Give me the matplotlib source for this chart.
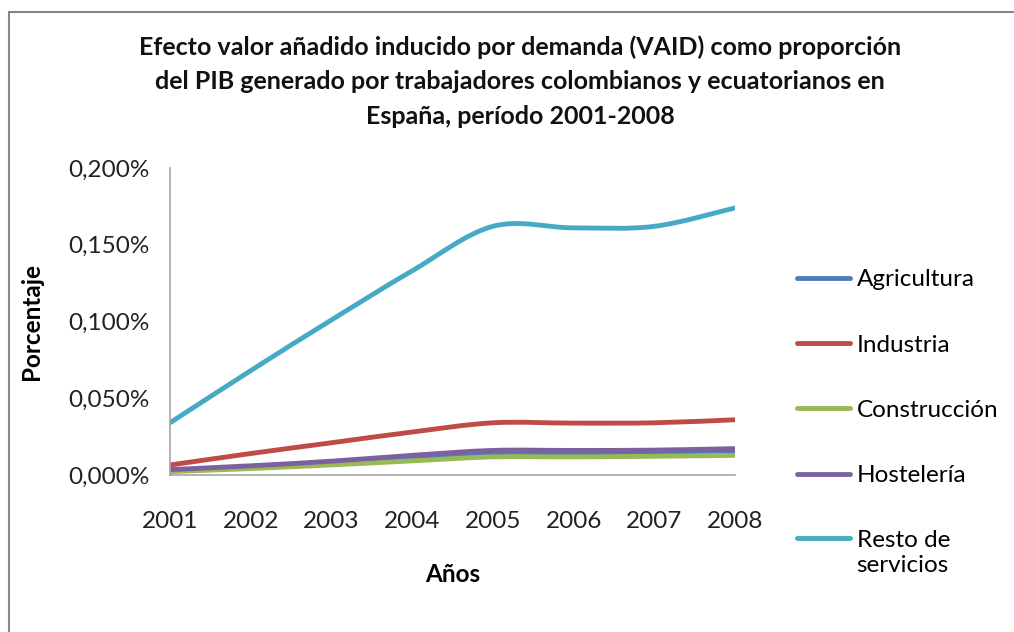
import numpy as np
import matplotlib.pyplot as plt
from matplotlib.path import Path
from matplotlib.patches import PathPatch, Rectangle
from matplotlib.lines import Line2D
from matplotlib.ticker import FuncFormatter

plt.rcParams['font.family'] = ['Lato', 'DejaVu Sans']

years = [2001, 2002, 2003, 2004, 2005, 2006, 2007, 2008]
agricultura = [0.0030, 0.0052, 0.0078, 0.0108, 0.0138, 0.0143, 0.0148, 0.0158]
industria = [0.0065, 0.0140, 0.0210, 0.0280, 0.0340, 0.0338, 0.0340, 0.0360]
construccion = [0.0022, 0.0042, 0.0066, 0.0092, 0.0118, 0.0118, 0.0122, 0.0128]
hosteleria = [0.0035, 0.0060, 0.0090, 0.0128, 0.0160, 0.0160, 0.0162, 0.0172]
resto = [0.0340, 0.0680, 0.1010, 0.1330, 0.1620, 0.1610, 0.1620, 0.1740]

series = [
    ("Agricultura", agricultura, "#4a7ebb"),
    ("Industria", industria, "#be4b48"),
    ("Construcción", construccion, "#98b954"),
    ("Hostelería", hosteleria, "#7d60a0"),
    ("Resto de\nservicios", resto, "#46aac5"),
]


def smooth_path(x, y):
    # Excel-style smoothed line: cubic Bezier through every point
    x = np.asarray(x, float)
    y = np.asarray(y, float)
    verts = [(x[0], y[0])]
    codes = [Path.MOVETO]
    n = len(x)
    for i in range(n - 1):
        p0 = np.array([x[max(i - 1, 0)], y[max(i - 1, 0)]])
        p1 = np.array([x[i], y[i]])
        p2 = np.array([x[i + 1], y[i + 1]])
        p3 = np.array([x[min(i + 2, n - 1)], y[min(i + 2, n - 1)]])
        c1 = p1 + (p2 - p0) / 6
        c2 = p2 - (p3 - p1) / 6
        verts += [tuple(c1), tuple(c2), tuple(p2)]
        codes += [Path.CURVE4] * 3
    return Path(verts, codes)


fig = plt.figure(figsize=(10.14, 6.32), dpi=100)
fig.patches.append(Rectangle((9 / 1014, -0.1), 1.2, 1 - 12 / 632 + 0.1,
                             transform=fig.transFigure, fill=False,
                             edgecolor="#868686", linewidth=1.5))
ax = fig.add_axes([170 / 1014, 1 - 475 / 632, 565 / 1014, 307 / 632])

xs = np.arange(len(years))
handles = []
for name, vals, color in series:
    ax.add_patch(PathPatch(smooth_path(xs, vals), facecolor="none",
                           edgecolor=color, linewidth=3.5, capstyle="round"))
    handles.append(Line2D([], [], color=color, linewidth=3.5,
                          solid_capstyle="round", label=name))

ax.set_xlim(0, len(years) - 1)
ax.set_ylim(0, 0.2)
ax.set_xticks(xs)
ax.set_xticklabels([str(y) for y in years])
ax.set_yticks([0, 0.05, 0.1, 0.15, 0.2])
ax.yaxis.set_major_formatter(FuncFormatter(lambda v, p: f"{v:.3f}%".replace(".", ",")))
ax.tick_params(length=0, labelsize=17.5, colors="#222222", pad=15)
ax.tick_params(axis="x", pad=26)
for s in ["top", "right"]:
    ax.spines[s].set_visible(False)
for s in ["left", "bottom"]:
    ax.spines[s].set_color("#a6a6a6")
    ax.spines[s].set_linewidth(1.2)

ax.set_xlabel("Años", fontsize=17.5, fontweight="bold", labelpad=22)
ax.set_ylabel("Porcentaje", fontsize=17.5, fontweight="bold", labelpad=18)

fig.text(0.513, 1 - 35 / 632,
         "Efecto valor añadido inducido por demanda (VAID) como proporción\n"
         "del PIB generado por trabajadores colombianos y ecuatorianos en\n"
         "España, período 2001-2008",
         ha="center", va="top", fontsize=18, fontweight="bold",
         linespacing=1.62, color="#111111")

leg = ax.legend(handles=handles, loc="upper left", bbox_to_anchor=(1.071, 0.741),
                frameon=False, fontsize=17.5, handlelength=2.2, handletextpad=0.25,
                labelspacing=1.82)
# put the last handle level with the first line of its two-line label
last = leg.get_lines()[-1]
last.set_ydata(np.asarray(last.get_ydata()) + 11)

fig.savefig("out.png", dpi=100)
